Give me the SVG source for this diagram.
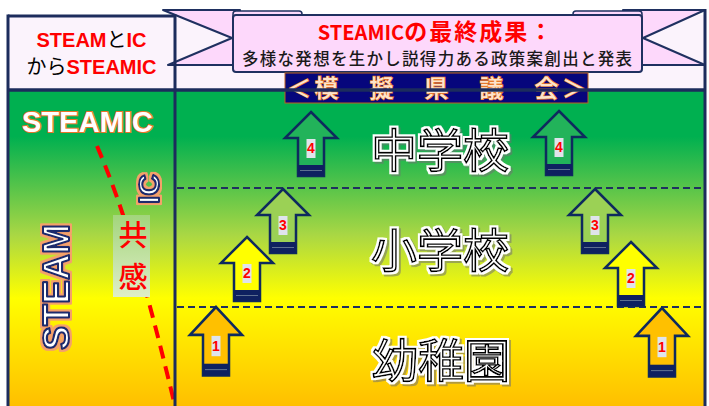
<svg xmlns="http://www.w3.org/2000/svg" width="709" height="406" viewBox="0 0 709 406">
<style>
.jp{font-family:"Noto Sans CJK JP","Noto Sans CJK SC",sans-serif}
.lat{font-family:"Liberation Sans","Noto Sans CJK JP",sans-serif}
.big{font-family:"Noto Sans CJK JP",sans-serif;font-size:46px;text-anchor:middle;fill:#fff;stroke:#000;stroke-width:1.6;filter:url(#halo)}
.num{font-family:"Liberation Sans",sans-serif;font-weight:bold;font-size:14px;fill:#ff0000;text-anchor:middle}
.navy{stroke:#1c2c5c;fill:none}
.dash{stroke:#1f3060;stroke-width:2;stroke-dasharray:7 4;fill:none}
.outlined{font-family:"Liberation Sans",sans-serif;font-weight:bold;text-anchor:middle;fill:#fff;stroke:#1c2c6c;stroke-width:2.2;stroke-linejoin:round;filter:url(#glow)}
</style>
<defs>
<linearGradient id="bg" x1="0" y1="89" x2="0" y2="406" gradientUnits="userSpaceOnUse">
<stop offset="0" stop-color="#00b050"/>
<stop offset="0.15" stop-color="#00b050"/>
<stop offset="0.46" stop-color="#a9d744"/>
<stop offset="0.66" stop-color="#ffff00"/>
<stop offset="1" stop-color="#ffbf00"/>
</linearGradient>
<linearGradient id="kyokan" x1="0" y1="0" x2="0" y2="1">
<stop offset="0" stop-color="#a3d57c"/>
<stop offset="1" stop-color="#dfeec8"/>
</linearGradient>
<filter id="halo" x="-10%" y="-20%" width="120%" height="140%">
<feMorphology in="SourceAlpha" operator="dilate" radius="2" result="d"/>
<feFlood flood-color="#ffffff"/>
<feComposite in2="d" operator="in" result="w"/>
<feOffset in="d" dx="2" dy="2" result="s"/>
<feFlood flood-color="#707070" flood-opacity="0.55"/>
<feComposite in2="s" operator="in" result="sh"/>
<feMerge><feMergeNode in="sh"/><feMergeNode in="w"/><feMergeNode in="SourceGraphic"/></feMerge>
</filter>
<filter id="glow" x="-20%" y="-30%" width="140%" height="160%">
<feMorphology in="SourceAlpha" operator="dilate" radius="1.5" result="d"/>
<feFlood flood-color="#f4a16a"/>
<feComposite in2="d" operator="in" result="o"/>
<feMerge><feMergeNode in="o"/><feMergeNode in="SourceGraphic"/></feMerge>
</filter>
<g id="arrow">
<path d="M0,0 L26,26 L13,26 L13,64 L-13,64 L-13,26 L-26,26 Z" stroke="#0e2a5e" stroke-width="2.5"/>
<rect x="-13" y="53" width="26" height="11" fill="#0e2160"/>
<line x1="-11" y1="58.5" x2="11" y2="58.5" stroke="#5d7090" stroke-width="1"/>
<rect x="-4.5" y="27" width="9" height="19" fill="#dfe4ec"/>
</g>
</defs>

<g id="background">
<rect x="8" y="89" width="697" height="317" fill="url(#bg)"/>
<rect x="8" y="15" width="697" height="74" fill="#fbf3fc"/>
</g>

<g id="ribbon">
<polygon points="163,10 240,10 240,65 168,65 232,38" fill="#fdd8fb" stroke="#1f3060" stroke-width="2" stroke-linejoin="round"/>
<polygon points="705,10 623,10 623,65 705,65 643,38" fill="#fdd8fb" stroke="#1f3060" stroke-width="2" stroke-linejoin="round"/>
<rect x="233" y="11" width="69" height="9" rx="3" fill="#fdd8fb" stroke="#1f3060" stroke-width="1.5"/>
<rect x="573" y="11" width="69" height="9" rx="3" fill="#fdd8fb" stroke="#1f3060" stroke-width="1.5"/>
<rect x="233" y="15" width="409" height="57" rx="3" fill="#fdd8fb" stroke="#1f3060" stroke-width="2"/>
<text class="jp" x="436" y="40" text-anchor="middle" font-weight="bold" fill="#ff0000"><tspan font-size="20">STEAMIC</tspan><tspan font-size="23" letter-spacing="2">の最終成果：</tspan></text>
<text class="jp" x="242" y="65" font-size="16.5" font-weight="500" fill="#1a1a1a" textLength="390">多様な発想を生かし説得力ある政策案創出と発表</text>
</g>

<g id="gikai">
<rect x="285" y="73" width="303" height="30" fill="#06067c" stroke="#c0601c" stroke-width="1"/>
<text class="jp" x="287" y="97" font-size="24" font-weight="500" fill="#fde4cc" stroke="#e87a2a" stroke-width="1.4" paint-order="stroke" textLength="299">＜模　擬　県　議　会＞</text>
</g>

<g id="title">
<text class="lat" x="91.5" y="47" text-anchor="middle" font-weight="bold" font-size="20"><tspan fill="#ff0000">STEAM</tspan><tspan fill="#000" font-weight="normal">と</tspan><tspan fill="#ff0000">IC</tspan></text>
<text class="lat" x="91.5" y="74" text-anchor="middle" font-weight="bold" font-size="20"><tspan fill="#000" font-weight="normal">から</tspan><tspan fill="#ff0000">STEAMIC</tspan></text>
</g>

<g id="left-panel">
<text class="lat" x="22" y="132" font-weight="bold" font-size="29" fill="#fff" stroke="#e8742a" stroke-width="2" paint-order="stroke" textLength="131">STEAMIC</text>
<text class="outlined" transform="translate(56,287) rotate(-90)" x="0" y="13" font-size="36">STEAM</text>
<text class="outlined" transform="translate(148,189) rotate(-90)" x="0" y="11" font-size="30">IC</text>
<path d="M97,146 C120,200 140,260 175,406" stroke="#ff0000" stroke-width="4" stroke-dasharray="13 8" fill="none"/>
<rect x="113" y="215" width="37" height="82" fill="url(#kyokan)"/>
<text class="jp" x="133" y="246" text-anchor="middle" font-size="29" font-weight="500" fill="#ff0000">共</text>
<text class="jp" x="133" y="288" text-anchor="middle" font-size="29" font-weight="500" fill="#ff0000">感</text>
</g>

<g id="connectors">
<line class="dash" x1="177" y1="188" x2="704" y2="188"/>
<line class="dash" x1="177" y1="307" x2="704" y2="307"/>
</g>

<g id="levels">
<g id="chugakko"><text class="big" x="440" y="167">中学校</text></g>
<g id="shogakko"><text class="big" x="440" y="267">小学校</text></g>
<g id="yochien"><text class="big" x="441" y="377">幼稚園</text></g>
</g>

<g id="arrows-left">
<g id="L4"><use href="#arrow" x="311" y="112" fill="#22b35a"/><text class="num" x="311" y="153">4</text></g>
<g id="L3"><use href="#arrow" x="283" y="189" fill="#9bd155"/><text class="num" x="283" y="230">3</text></g>
<g id="L2"><use href="#arrow" x="247" y="237" fill="#ffff00"/><text class="num" x="247" y="278">2</text></g>
<g id="L1"><use href="#arrow" transform="translate(216,307) scale(1,1.07)" fill="#ffc000"/><text class="num" x="216" y="351">1</text></g>
</g>
<g id="arrows-right">
<g id="R4"><use href="#arrow" x="559" y="111" fill="#22b35a"/><text class="num" x="559" y="152">4</text></g>
<g id="R3"><use href="#arrow" x="595" y="189" fill="#9bd155"/><text class="num" x="595" y="230">3</text></g>
<g id="R2"><use href="#arrow" x="631" y="242" fill="#ffff00"/><text class="num" x="631" y="283">2</text></g>
<g id="R1"><use href="#arrow" transform="translate(662,308) scale(1,1.07)" fill="#ffc000"/><text class="num" x="662" y="352">1</text></g>
</g>

<g id="frame">
<path class="navy" d="M8,16 H175" stroke-width="3"/>
<path class="navy" d="M8,90 H705" stroke-width="3.5"/>
<path class="navy" d="M8,14.5 V406" stroke-width="3"/>
<path class="navy" d="M175,14.5 V406" stroke-width="3"/>
<path class="navy" d="M705,9 V406" stroke-width="3"/>
</g>
</svg>
